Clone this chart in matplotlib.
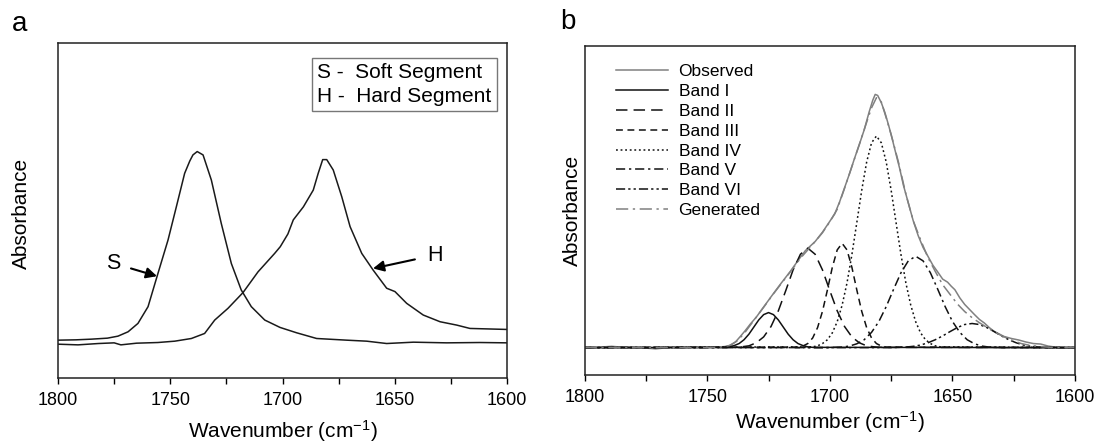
import numpy as np
import matplotlib.pyplot as plt

plt.rcParams['font.family'] = ['Liberation Sans', 'DejaVu Sans']
plt.rcParams['mathtext.fontset'] = 'custom'
plt.rcParams['mathtext.rm'] = 'Liberation Sans'
plt.rcParams['mathtext.default'] = 'regular'

# panel a - soft / hard segment carbonyl bands
soft_wn = [1800, 1792, 1785.2, 1778, 1773.3, 1768.8, 1764.4, 1759.9, 1755.5, 1751,
           1747.3, 1743.6, 1741.3, 1739.9, 1738, 1735.4, 1731.7, 1727.3, 1722.8,
           1718.4, 1713.9, 1707.9, 1701.1, 1693.7, 1684.8, 1671.4, 1662.5, 1653.6,
           1641.7, 1626.9, 1612, 1600]
soft_abs = [0.113, 0.114, 0.116, 0.119, 0.125, 0.138, 0.163, 0.213, 0.312, 0.412,
            0.511, 0.611, 0.648, 0.666, 0.676, 0.666, 0.591, 0.462, 0.342,
            0.263, 0.213, 0.173, 0.151, 0.135, 0.118, 0.113, 0.110, 0.103,
            0.107, 0.105, 0.106, 0.105]

hard_wn = [1800, 1791.1, 1782, 1775, 1772, 1765, 1755.5, 1748, 1740.6, 1734.7,
           1730.2, 1724.3, 1717.6, 1710.9, 1703.5, 1701, 1697.6, 1695.2, 1690.7,
           1686.3, 1684.1, 1682.1, 1680.3, 1677.4, 1673.6, 1669.9, 1664.7, 1659.6,
           1653.6, 1649.9, 1644.7, 1637.3, 1629.8, 1622.4, 1616.5, 1600]
hard_abs = [0.101, 0.099, 0.103, 0.105, 0.099, 0.104, 0.106, 0.110, 0.118, 0.133,
            0.173, 0.208, 0.255, 0.317, 0.372, 0.392, 0.430, 0.472, 0.511,
            0.561, 0.611, 0.652, 0.652, 0.621, 0.541, 0.452, 0.372, 0.322,
            0.268, 0.258, 0.223, 0.188, 0.168, 0.158, 0.148, 0.145]

# panel b - observed spectrum and curve fit
obs_wn = [1800, 1795, 1789, 1785, 1780, 1775, 1771, 1767, 1760, 1752, 1746, 1743,
          1740.5, 1738.5, 1736.5, 1734.5, 1732.5, 1730, 1727, 1724, 1720, 1716,
          1713, 1710, 1706, 1703, 1700, 1698, 1696, 1694, 1692, 1690, 1688, 1686,
          1684, 1682.5, 1681.5, 1680.5, 1679, 1677.5, 1676, 1674.5, 1673, 1671.5,
          1670, 1668, 1666, 1664, 1662, 1660, 1658, 1656, 1654, 1652, 1650.5,
          1649, 1647, 1645, 1643, 1641, 1639, 1637, 1635, 1633, 1631, 1629, 1626,
          1623, 1620, 1617, 1614, 1611, 1608, 1604, 1600]
obs_abs = [0.000, 0.001, 0.005, 0.002, 0.000, -0.002, -0.005, -0.001, 0.001, 0.000,
           0.002, 0.004, 0.009, 0.022, 0.044, 0.067, 0.092, 0.120, 0.160, 0.200,
           0.252, 0.302, 0.343, 0.382, 0.418, 0.455, 0.498, 0.527, 0.575, 0.630,
           0.685, 0.744, 0.800, 0.858, 0.928, 0.975, 0.998, 0.994, 0.965, 0.925,
           0.875, 0.820, 0.762, 0.705, 0.640, 0.570, 0.500, 0.442, 0.395, 0.360,
           0.325, 0.298, 0.270, 0.258, 0.242, 0.228, 0.196, 0.170, 0.150, 0.130,
           0.111, 0.097, 0.079, 0.064, 0.054, 0.044, 0.036, 0.030, 0.022, 0.016,
           0.014, 0.006, 0.002, 0.000, 0.000]

gen_wn = [1800, 1750, 1745, 1741, 1738, 1735, 1732, 1729, 1726, 1723, 1720, 1716,
          1712, 1709, 1706, 1703, 1700, 1697, 1694, 1691, 1688, 1685, 1683, 1681,
          1679, 1677, 1675, 1672, 1669, 1666, 1663, 1660, 1657, 1654, 1651, 1648,
          1645, 1642, 1639, 1636, 1633, 1630, 1626, 1622, 1618, 1614, 1610, 1605,
          1600]
gen_abs = [0, 0, 0.002, 0.008, 0.025, 0.055, 0.094, 0.133, 0.172, 0.212, 0.250,
           0.300, 0.352, 0.385, 0.418, 0.453, 0.496, 0.545, 0.628, 0.714, 0.800,
           0.888, 0.945, 0.985, 0.968, 0.905, 0.840, 0.730, 0.605, 0.500, 0.425,
           0.355, 0.300, 0.248, 0.210, 0.172, 0.142, 0.118, 0.098, 0.080, 0.063,
           0.047, 0.030, 0.016, 0.008, 0.004, 0.001, 0, 0]

# fitted component bands (zero outside the listed range)
band1_wn = [1800] + list(range(1743, 1706, -2)) + [1600]
band1_abs = [0, 0.001, 0.003, 0.008, 0.016, 0.031, 0.053, 0.081, 0.109, 0.130, 0.138,
             0.130, 0.109, 0.081, 0.053, 0.031, 0.016, 0.008, 0.003, 0.001, 0]
band2_wn = [1800] + list(range(1739, 1678, -3)) + [1600]
band2_abs = [0, 0.001, 0.003, 0.007, 0.019, 0.042, 0.083, 0.145, 0.224, 0.306, 0.368,
             0.392, 0.368, 0.306, 0.224, 0.145, 0.083, 0.042, 0.019, 0.007, 0.003,
             0.001, 0]
band3_wn = [1800] + list(range(1713, 1676, -2)) + [1600]
band3_abs = [0, 0.002, 0.006, 0.016, 0.038, 0.079, 0.143, 0.227, 0.316, 0.385, 0.411,
             0.385, 0.316, 0.227, 0.143, 0.079, 0.038, 0.016, 0.006, 0.002, 0]
band4_wn = [1800] + list(range(1707, 1654, -2)) + [1600]
band4_abs = [0, 0.003, 0.007, 0.016, 0.031, 0.058, 0.102, 0.167, 0.255, 0.367, 0.493,
             0.620, 0.731, 0.807, 0.834, 0.807, 0.731, 0.620, 0.493, 0.367, 0.255,
             0.167, 0.102, 0.058, 0.031, 0.016, 0.007, 0.003, 0]
band5_wn = [1800] + list(range(1701, 1628, -3)) + [1600]
band5_abs = [0, 0.000, 0.001, 0.002, 0.006, 0.015, 0.031, 0.060, 0.103, 0.162, 0.230,
             0.295, 0.342, 0.360, 0.342, 0.295, 0.230, 0.162, 0.103, 0.060, 0.031,
             0.015, 0.006, 0.002, 0.001, 0.000, 0]
band6_wn = [1800] + list(range(1675, 1608, -3)) + [1600]
band6_abs = [0, 0.000, 0.001, 0.002, 0.005, 0.010, 0.019, 0.031, 0.046, 0.063, 0.079,
             0.091, 0.095, 0.091, 0.079, 0.063, 0.046, 0.031, 0.019, 0.010, 0.005,
             0.002, 0.001, 0.000, 0]

band_wn = [band1_wn, band2_wn, band3_wn, band4_wn, band5_wn, band6_wn]
band_abs = [band1_abs, band2_abs, band3_abs, band4_abs, band5_abs, band6_abs]
band_names = ['Band I', 'Band II', 'Band III', 'Band IV', 'Band V', 'Band VI']
band_styles = ['-', (0, (7.5, 4)), (0, (4.5, 3)), (0, (1.2, 1.8)),
               (0, (6, 2.5, 1.5, 2.5)), (0, (6, 2, 1.5, 2, 1.5, 2))]

major_ticks = [1800, 1750, 1700, 1650, 1600]
minor_ticks = [1775, 1725, 1675, 1625]

fig = plt.figure(figsize=(10.95, 4.44), dpi=100)
ax1 = fig.add_axes([0.0530, 0.1486, 0.4100, 0.7545])
ax2 = fig.add_axes([0.5339, 0.1554, 0.4479, 0.7417])

# ---- panel a
ax1.plot(soft_wn, soft_abs, color='#1a1a1a', lw=1.1)
ax1.plot(hard_wn, hard_abs, color='#1a1a1a', lw=1.1)
ax1.set_xlim(1800, 1600)
ax1.set_ylim(0, 1)

ax1.annotate('S', xy=(1755.9, 0.304), xytext=(1775.5, 0.343), fontsize=15.5,
             ha='center', va='center',
             arrowprops=dict(arrowstyle='-|>', color='k', lw=1.5,
                             mutation_scale=16, shrinkA=6, shrinkB=0))
ax1.annotate('H', xy=(1659.7, 0.327), xytext=(1632.1, 0.367), fontsize=15.5,
             ha='center', va='center',
             arrowprops=dict(arrowstyle='-|>', color='k', lw=1.5,
                             mutation_scale=16, shrinkA=7, shrinkB=0))

ax1.text(0.577, 0.94, 'S -  Soft Segment\nH -  Hard Segment', transform=ax1.transAxes,
         fontsize=15, ha='left', va='top', linespacing=1.3,
         bbox=dict(boxstyle='square,pad=0.25', fc='white', ec='#777777', lw=1))

# ---- panel b
obs_line, = ax2.plot(obs_wn, obs_abs, color='#808080', lw=1.1, label='Observed')
band_lines = []
for wn, ab, name, ls in zip(band_wn, band_abs, band_names, band_styles):
    ln, = ax2.plot(wn, ab, color='#111111', lw=1.1, linestyle=ls, label=name)
    band_lines.append(ln)
gen_line, = ax2.plot(gen_wn, gen_abs, color='#808080', lw=1.1,
                     linestyle=(0, (8, 3, 1.5, 3)), label='Generated')
ax2.set_xlim(1800, 1600)
ax2.set_ylim(-0.108, 1.19)

ax2.legend(handles=[obs_line] + band_lines + [gen_line], loc='upper left',
           bbox_to_anchor=(0.064, 0.944), frameon=False, fontsize=12.5,
           handlelength=3.0, handletextpad=0.6, labelspacing=0.27,
           borderpad=0, borderaxespad=0)

for ax in (ax1, ax2):
    ax.set_xticks(major_ticks)
    ax.set_xticks(minor_ticks, minor=True)
    ax.set_yticks([])
    ax.tick_params(axis='x', which='both', direction='out', length=4, width=1,
                   labelsize=13, pad=6)
    for sp in ax.spines.values():
        sp.set_linewidth(1.1)
        sp.set_color('#222222')
    ax.set_ylabel('Absorbance', fontsize=15)
    ax.set_xlabel('Wavenumber (cm$^{-1}$)', fontsize=15)

ax1.xaxis.set_label_coords(0.5, -0.12)
ax2.xaxis.set_label_coords(0.5, -0.103)
ax1.yaxis.set_label_coords(-0.060, 0.49)
ax2.yaxis.set_label_coords(-0.005, 0.5)

fig.text(20 / 1095, 1 - 24 / 444, 'a', fontsize=20, ha='center', va='center')
fig.text(568 / 1095, 1 - 22 / 444, 'b', fontsize=20, ha='center', va='center')

fig.savefig('out.png', dpi=100)
